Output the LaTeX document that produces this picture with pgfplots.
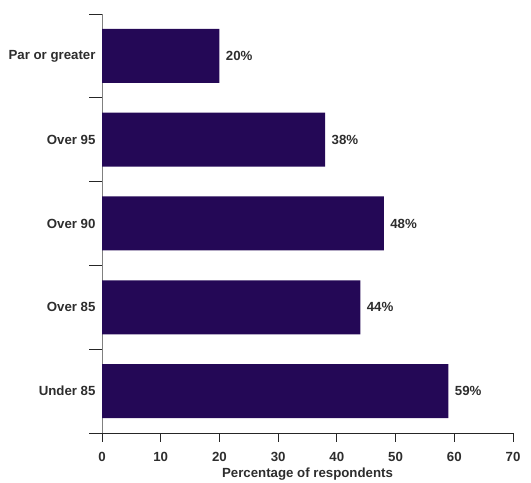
\documentclass[border=0pt]{standalone}
\usepackage{fontspec}
\setmainfont{Liberation Sans}
\usepackage{pgfplots}
\pgfplotsset{compat=1.18}
\definecolor{barpurple}{RGB}{36,8,86}
\definecolor{labelgray}{RGB}{45,45,45}
\begin{document}
\begin{tikzpicture}[x=1bp,y=1bp]
\useasboundingbox (0,0) rectangle (531,483);
\begin{axis}[
  at={(102bp,50bp)}, anchor=south west,
  scale only axis, width=411bp, height=419bp,
  xbar, bar width=54bp,
  xmin=0, xmax=70, ymin=0.5, ymax=5.5,
  xtick={0,10,...,70},
  % category boundaries carry the tick marks, centres carry the names
  ytick={0.5,1.5,...,5.5},
  yticklabels={},
  extra y ticks={1,2,3,4,5},
  extra y tick labels={Under 85,Over 85,Over 90,Over 95,Par or greater},
  extra y tick style={major tick length=0pt, tick style={draw=none},
    yticklabel style={xshift=-3bp}},
  axis lines*=left,
  x axis line style={black!85, line width=0.9pt},
  y axis line style={gray, line width=0.8pt},
  tick align=outside,
  major tick length=13bp,
  xtick style={black!85, line width=0.9pt, /pgfplots/major tick length=9bp},
  ytick style={black!85, line width=0.9pt},
  /pgf/number format/assume math mode=true,
  ticklabel style={font=\fontsize{13.3}{15}\selectfont\bfseries, text=labelgray},
  xticklabel style={yshift=-3bp},
  xlabel={Percentage of respondents},
  xlabel style={font=\fontsize{13.3}{15}\selectfont\bfseries, text=labelgray, yshift=-1bp, inner sep=1bp},
  nodes near coords={\pgfmathprintnumber{\pgfplotspointmeta}\%},
  nodes near coords style={font=\fontsize{13.3}{15}\selectfont\bfseries, text=labelgray, xshift=3bp},
  clip=false,
]
\addplot[fill=barpurple, draw=none] coordinates {
  (59,1) (44,2) (48,3) (38,4) (20,5)
};
\end{axis}
\end{tikzpicture}
\end{document}
